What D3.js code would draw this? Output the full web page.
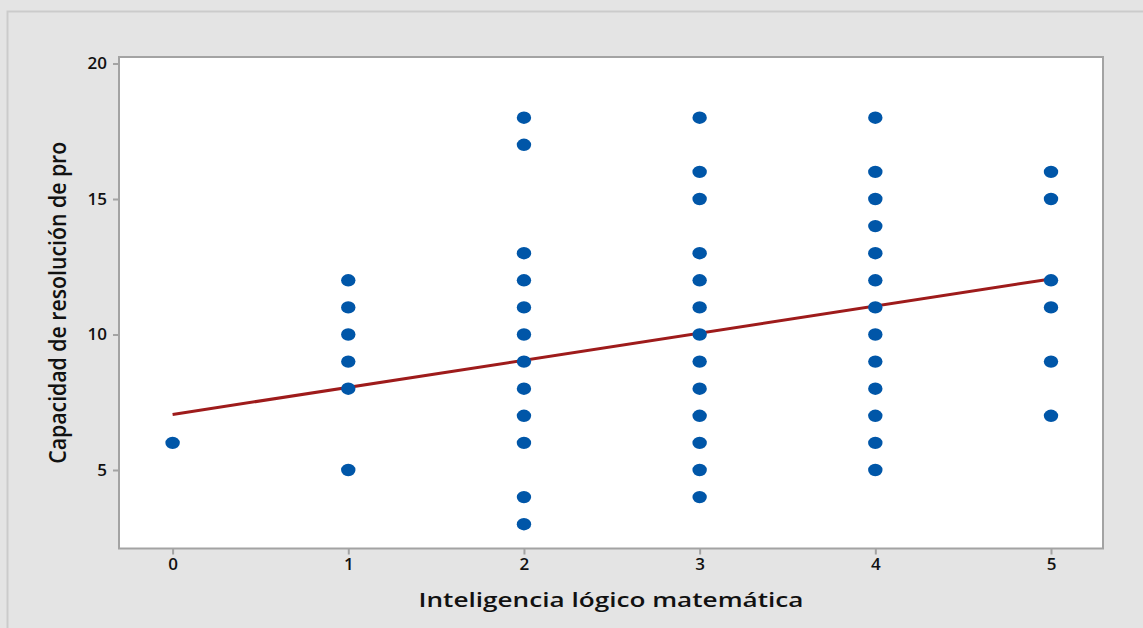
<!DOCTYPE html>
<html>
<head>
<meta charset="utf-8">
<script src="https://cdn.jsdelivr.net/npm/d3@7"></script>
<style>
  html, body { margin: 0; padding: 0; background: #e4e4e4; }
  svg { display: block; }
</style>
</head>
<body>
<svg id="chart" width="1143" height="628"></svg>
<script>
// Scatter of problem-solving score vs. logical-mathematical intelligence
const xTicks = [0, 1, 2, 3, 4, 5];
const yTicks = [5, 10, 15, 20];

// Observations grouped by x value
const x0 = [6];
const x1 = [12, 11, 10, 9, 8, 5];
const x2 = [18, 17, 13, 12, 11, 10, 9, 8, 7, 6, 4, 3];
const x3 = [18, 16, 15, 13, 12, 11, 10, 9, 8, 7, 6, 5, 4];
const x4 = [18, 16, 15, 14, 13, 12, 11, 10, 9, 8, 7, 6, 5];
const x5 = [16, 15, 12, 11, 9, 7];

// Fitted line: y = intercept + slope * x
const fitIntercept = 7.05;
const fitSlope = 1.0;

const xTitle = "Inteligencia lógico matemática";
const yTitle = "Capacidad de resolución de pro";

const groups = [x0, x1, x2, x3, x4, x5];
const points = [];
groups.forEach((vals, i) => vals.forEach(v => points.push({ x: xTicks[i], y: v })));

const svg = d3.select("#chart");
const W = 1143, H = 628;
const plot = { left: 119, top: 57, right: 1103, bottom: 548.5 };

// Outer panel with a light border on top and left
svg.append("rect").attr("x", 0).attr("y", 0).attr("width", W).attr("height", H).attr("fill", "#e4e4e4");
svg.append("path")
  .attr("d", `M7.5,${H} L7.5,11.5 L${W},11.5`)
  .attr("fill", "none").attr("stroke", "#cbcbcb").attr("stroke-width", 2);

const x = d3.scaleLinear().domain([0, 5]).range([172.6, 1051]);
const y = d3.scaleLinear().domain([5, 20]).range([470, 63.5]);

// Plot area
svg.append("rect")
  .attr("x", plot.left).attr("y", plot.top)
  .attr("width", plot.right - plot.left).attr("height", plot.bottom - plot.top)
  .attr("fill", "#ffffff").attr("stroke", "#a3a3a3").attr("stroke-width", 2);

const tickFont = "'Open Sans', 'Noto Sans', sans-serif";

// X axis
const xAxis = d3.axisBottom(x).tickValues(xTicks).tickSize(6).tickPadding(3).tickFormat(d3.format("d"));
const gx = svg.append("g").attr("transform", `translate(0,${plot.bottom})`).call(xAxis);
gx.select(".domain").remove();
gx.selectAll(".tick line").attr("stroke", "#a3a3a3").attr("stroke-width", 2);
gx.selectAll(".tick text")
  .attr("fill", "#111").attr("font-family", tickFont).attr("font-size", 17).attr("font-weight", 600);

// Y axis
const yAxis = d3.axisLeft(y).tickValues(yTicks).tickSize(6).tickPadding(6).tickFormat(d3.format("d"));
const gy = svg.append("g").attr("transform", `translate(${plot.left},0)`).call(yAxis);
gy.select(".domain").remove();
gy.selectAll(".tick line").attr("stroke", "#a3a3a3").attr("stroke-width", 2);
gy.selectAll(".tick text")
  .attr("fill", "#111").attr("font-family", tickFont).attr("font-size", 17).attr("font-weight", 600);

// Fitted regression line
svg.append("line")
  .attr("x1", x(0)).attr("y1", y(fitIntercept))
  .attr("x2", x(5)).attr("y2", y(fitIntercept + fitSlope * 5))
  .attr("stroke", "#9e1b1b").attr("stroke-width", 3);

// Points
svg.append("g").selectAll("ellipse").data(points).join("ellipse")
  .attr("cx", d => x(d.x)).attr("cy", d => y(d.y))
  .attr("rx", 7.2).attr("ry", 6.2)
  .attr("fill", "#0056a8");

// Axis titles
svg.append("text")
  .attr("x", (plot.left + plot.right) / 2).attr("y", 607)
  .attr("text-anchor", "middle")
  .attr("font-family", "'Open Sans', 'Noto Sans', sans-serif")
  .attr("font-size", 20).attr("font-weight", 600).attr("fill", "#111")
  .attr("textLength", 385).attr("lengthAdjust", "spacingAndGlyphs")
  .text(xTitle);

svg.append("text")
  .attr("transform", `translate(66,${(plot.top + plot.bottom) / 2}) rotate(-90)`)
  .attr("text-anchor", "middle")
  .attr("font-family", "'Open Sans', 'Noto Sans', sans-serif")
  .attr("font-size", 23).attr("font-weight", 600).attr("fill", "#111")
  .attr("textLength", 322).attr("lengthAdjust", "spacingAndGlyphs")
  .text(yTitle);
</script>
</body>
</html>
